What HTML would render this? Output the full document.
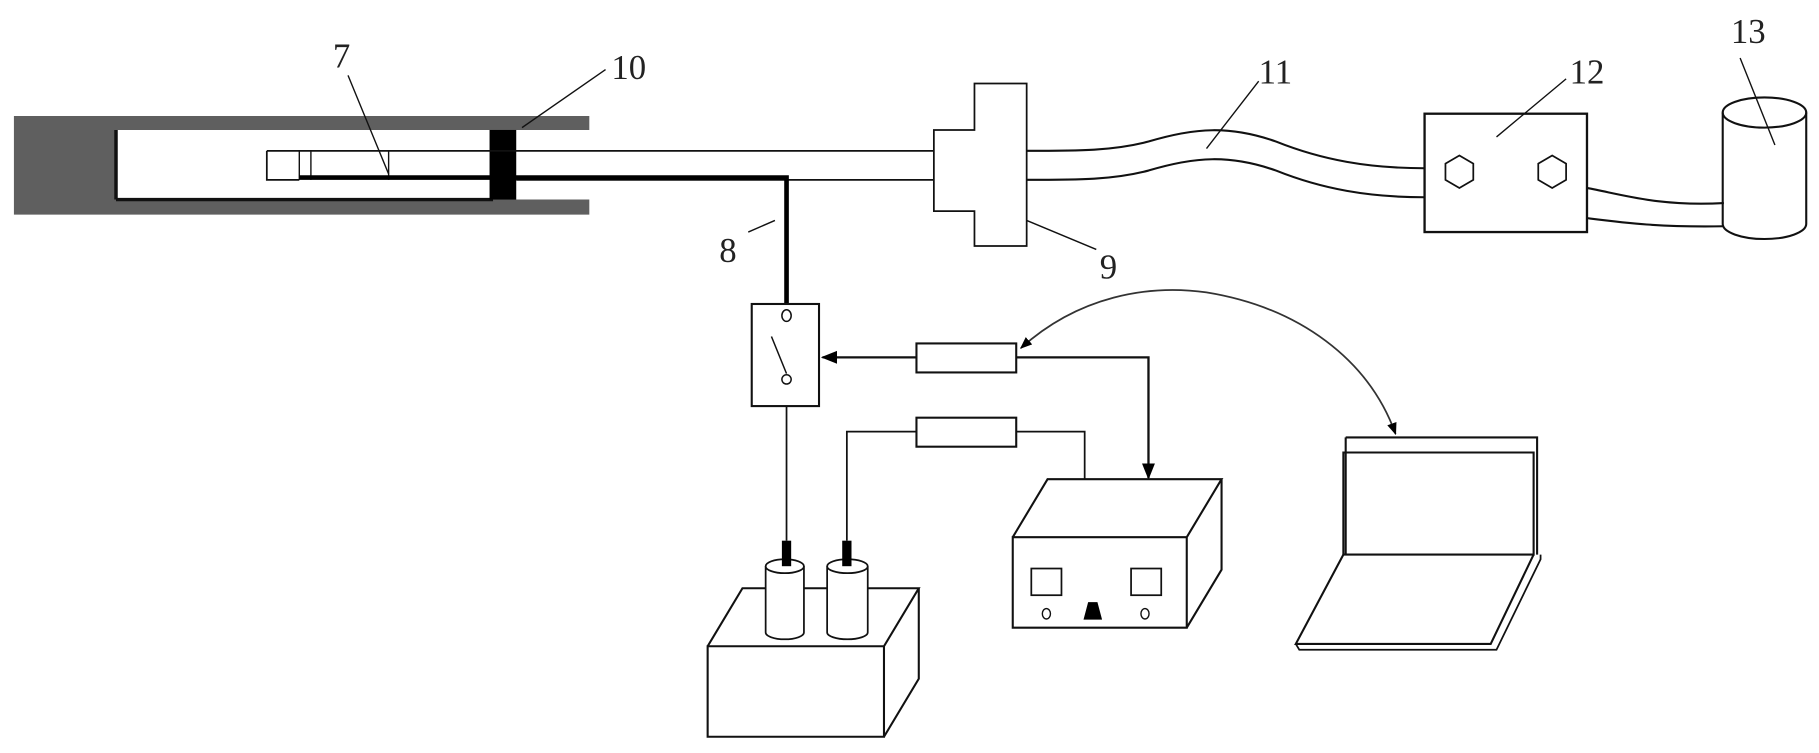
<!DOCTYPE html>
<html><head><meta charset="utf-8"><style>
html,body{margin:0;padding:0;background:#fff;}
svg{display:block;}
text{font-family:"Liberation Serif",serif;fill:#222;}
</style></head><body>
<svg width="1819" height="753" viewBox="0 0 1568 649" preserveAspectRatio="none" xmlns="http://www.w3.org/2000/svg">
<defs>
<marker id="ah" viewBox="0 0 10 10" refX="9" refY="5" markerWidth="7" markerHeight="7" orient="auto-start-reverse"><path d="M0,1 L10,5 L0,9 z" fill="#000"/></marker>
</defs>
<g fill="none" stroke="#111" stroke-width="2">
<path d="M12,100 H508 V112 H100 V172 H508 V185 H12 Z" fill="#5f5f5f" stroke="none"/>
<line x1="100" y1="112" x2="100" y2="172" stroke="#111" stroke-width="3"/>
<line x1="100" y1="172" x2="425" y2="172" stroke="#111" stroke-width="3"/>
<rect x="422" y="112" width="23" height="60" fill="#000" stroke="none"/>
<line x1="230" y1="130" x2="805" y2="130" stroke-width="1.5"/>
<line x1="445" y1="155" x2="805" y2="155" stroke-width="1.5"/>
<path d="M230,130 V155 H258" stroke-width="1.5"/>
<line x1="258" y1="130" x2="258" y2="155" stroke-width="1.2"/>
<line x1="268" y1="130" x2="268" y2="155" stroke-width="1.2"/>
<line x1="335" y1="130" x2="335" y2="155" stroke-width="1.2"/>
<path d="M258,153 H678 V262" stroke="#000" stroke-width="4"/>
<path d="M840,72 H885 V212 H840 V182 H805 V112 H840 Z" stroke-width="1.5"/>
<path d="M885,130 C930,130 960,130 990,122 C1030,110 1060,108 1100,122 C1140,138 1180,145 1228,145" stroke-width="1.8"/>
<path d="M885,155 C930,155 960,155 990,147 C1030,135 1060,133 1100,147 C1140,163 1180,170 1228,170" stroke-width="1.8"/>
<rect x="1228" y="98" width="140" height="102" stroke-width="2"/>
<polygon points="1258,134 1270,141 1270,155 1258,162 1246,155 1246,141" stroke-width="1.5"/>
<polygon points="1338,134 1350,141 1350,155 1338,162 1326,155 1326,141" stroke-width="1.5"/>
<path d="M1368,162 C1400,168 1430,178 1486,175" stroke-width="1.8"/>
<path d="M1368,188 C1400,192 1430,196 1486,195" stroke-width="1.8"/>
<ellipse cx="1521" cy="97" rx="36" ry="13" stroke-width="1.8"/>
<path d="M1485,97 V193 A36,13 0 0 0 1557,193 V97" stroke-width="1.8"/>
<g stroke-width="1.2">
<line x1="300" y1="65" x2="335" y2="150"/>
<line x1="450" y1="110" x2="522" y2="60"/>
<line x1="645" y1="200" x2="668" y2="190"/>
<line x1="885" y1="190" x2="945" y2="215"/>
<line x1="1040" y1="128" x2="1085" y2="70"/>
<line x1="1290" y1="118" x2="1350" y2="68"/>
<line x1="1500" y1="50" x2="1530" y2="125"/>
</g>
<rect x="648" y="262" width="58" height="88" stroke-width="1.8"/>
<ellipse cx="678" cy="272" rx="4" ry="5" stroke-width="1.3"/>
<ellipse cx="678" cy="327" rx="4" ry="4" stroke-width="1.3"/>
<line x1="665" y1="290" x2="678" y2="322" stroke-width="1.3"/>
<line x1="790" y1="308" x2="709" y2="308" stroke-width="2" marker-end="url(#ah)"/>
<rect x="790" y="296" width="86" height="25" stroke-width="1.8"/>
<path d="M876,308 H990 V412" stroke-width="2" marker-end="url(#ah)"/>
<path d="M880,300 C930,255 990,245 1040,252 C1120,265 1180,310 1203,374" stroke="#333" stroke-width="1.5" marker-start="url(#ah)" marker-end="url(#ah)"/>
<line x1="678" y1="350" x2="678" y2="466" stroke-width="1.5"/>
<path d="M730,466 V372 H790" stroke-width="1.5"/>
<rect x="790" y="360" width="86" height="25" stroke-width="1.8"/>
<path d="M876,372 H935 V413" stroke-width="1.5"/>
<path d="M610,557 H762 V635 H610 Z M610,557 L640,507 H792 L762,557 M792,507 V585 L762,635" stroke-width="1.8"/>
<g fill="#fff">
<path d="M660,488 V545 A16.5,6 0 0 0 693,545 V488" stroke-width="1.5"/>
<ellipse cx="676.5" cy="488" rx="16.5" ry="6" stroke-width="1.5"/>
<path d="M713,488 V545 A17.5,6 0 0 0 748,545 V488" stroke-width="1.5"/>
<ellipse cx="730.5" cy="488" rx="17.5" ry="6" stroke-width="1.5"/>
</g>
<rect x="674" y="466" width="8" height="22" fill="#000" stroke="none"/>
<rect x="726" y="466" width="8" height="22" fill="#000" stroke="none"/>
<path d="M873,463 H1023 V541 H873 Z M873,463 L903,413 H1053 L1023,463 M1053,413 V491 L1023,541" stroke-width="1.8"/>
<rect x="889" y="490" width="26" height="23" stroke-width="1.5"/>
<rect x="975" y="490" width="26" height="23" stroke-width="1.5"/>
<ellipse cx="902" cy="529" rx="3.5" ry="4.5" stroke-width="1.2"/>
<ellipse cx="987" cy="529" rx="3.5" ry="4.5" stroke-width="1.2"/>
<path d="M938,519 H946 L950,534 H934 Z" fill="#000" stroke="none"/>
<path d="M1160,377 H1325 V478 M1160,377 V478" stroke-width="1.8"/>
<path d="M1158,390 H1322 V478 H1158 Z" stroke-width="1.8"/>
<path d="M1158,478 L1117,555 H1285 L1322,478" stroke-width="1.8"/>
<path d="M1117,555 L1120,560 H1290 L1328,482 V478" stroke-width="1.5"/>
</g>
<g font-size="30">
<text x="287" y="58">7</text>
<text x="527" y="68">10</text>
<text x="620" y="226">8</text>
<text x="948" y="240">9</text>
<text x="1085" y="72">11</text>
<text x="1353" y="72">12</text>
<text x="1492" y="37">13</text>
</g>
</svg>
</body></html>
